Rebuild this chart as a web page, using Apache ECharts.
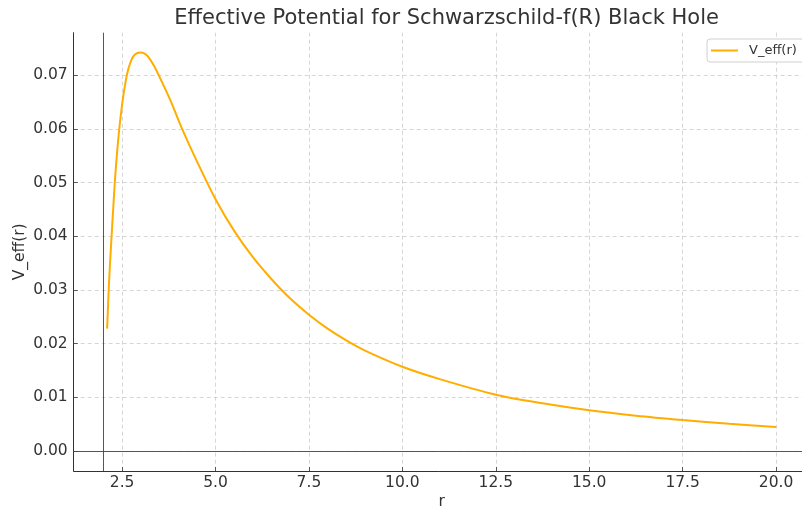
<!DOCTYPE html>
<html>
<head>
<meta charset="utf-8">
<script src="https://cdn.jsdelivr.net/npm/echarts@6/dist/echarts.min.js"></script>
<style>html,body{margin:0;padding:0;background:#fff}#c{width:802px;height:508px}</style>
</head>
<body>
<div id="c"></div>
<script>
const rValues = [2.10, 2.15, 2.21, 2.27, 2.32, 2.41, 2.50, 2.57, 2.64, 2.72, 2.80, 2.90, 3.00, 3.10, 3.20, 3.35, 3.50, 3.65, 3.80, 4.10, 4.50, 5.00, 5.50, 6.00, 6.50, 7.00, 7.50, 8.00, 8.50, 9.00, 10.00, 11.00, 12.50, 13.75, 15.00, 16.25, 17.50, 18.75, 20.00];
const vEff = [0.0228, 0.0313, 0.0390, 0.0460, 0.0515, 0.0590, 0.0645, 0.0678, 0.0704, 0.0723, 0.0735, 0.0741, 0.0742, 0.0740, 0.0734, 0.0718, 0.0697, 0.0675, 0.0652, 0.0601, 0.0540, 0.0469, 0.0410, 0.0361, 0.0320, 0.0284, 0.0254, 0.0228, 0.0206, 0.0187, 0.0157, 0.0134, 0.0105, 0.0089, 0.0076, 0.0066, 0.0058, 0.0051, 0.0045];
const xTicks = [2.5, 5.0, 7.5, 10.0, 12.5, 15.0, 17.5, 20.0];
const yTicks = [0.00, 0.01, 0.02, 0.03, 0.04, 0.05, 0.06, 0.07];
const titleText = 'Effective Potential for Schwarzschild-f(R) Black Hole';
const seriesName = 'V_eff(r)';

const font = 'DejaVu Sans';
const chart = echarts.init(document.getElementById('c'));
chart.setOption({
  animation: false,
  backgroundColor: '#fff',
  textStyle: { fontFamily: font },
  title: {
    text: titleText, left: 441.6, textAlign: 'center', top: 3,
    textStyle: { fontFamily: font, fontSize: 21, fontWeight: 'normal', color: '#333' }
  },
  legend: {
    left: 707, top: 39, padding: [5, 10, 5, 4], itemWidth: 27, itemHeight: 2, icon: 'rect',
    borderColor: '#d0d0d0', borderWidth: 1, borderRadius: 3, backgroundColor: '#fff',
    textStyle: { fontFamily: font, fontSize: 13, color: '#333', padding: [0, 0, 0, 6] },
    data: [seriesName]
  },
  grid: { left: 73.7, top: 32.7, width: 735.8, height: 438.3, containLabel: false, outerBoundsMode: 'none' },
  xAxis: {
    type: 'value', min: 1.205, max: 20.895,
    name: 'r', nameLocation: 'middle', nameGap: 23, nameMoveOverlap: false,
    nameTextStyle: { fontFamily: font, fontSize: 15.5, color: '#333' },
    axisLine: { show: true, onZero: false, lineStyle: { color: '#333', width: 1 } },
    axisTick: { show: true, inside: true, length: 4, customValues: xTicks, lineStyle: { color: '#555' } },
    axisLabel: { customValues: xTicks, margin: 4, fontSize: 15.5, color: '#333', fontFamily: font,
      formatter: v => v.toFixed(1) },
    splitLine: { show: true, lineStyle: { color: '#cccccc', type: [4, 3], width: 0.8 } }
  },
  yAxis: {
    type: 'value', min: -0.0037, max: 0.0779,
    name: 'V_eff(r)', nameLocation: 'middle', nameRotate: 90, nameGap: 46, nameMoveOverlap: false,
    nameTextStyle: { fontFamily: font, fontSize: 15.5, color: '#333' },
    axisLine: { show: true, onZero: false, lineStyle: { color: '#333', width: 1 } },
    axisTick: { show: true, inside: true, length: 4, customValues: yTicks, lineStyle: { color: '#555' } },
    axisLabel: { customValues: yTicks, margin: 6, fontSize: 15.5, color: '#333', fontFamily: font,
      formatter: v => v.toFixed(2) },
    splitLine: { show: true, lineStyle: { color: '#cccccc', type: [4, 3], width: 0.8 } }
  },
  series: [{
    name: seriesName, type: 'line', symbol: 'none', smooth: 0.3,
    data: rValues.map((r, i) => [r, vEff[i]]),
    lineStyle: { color: '#FFAE00', width: 2 },
    itemStyle: { color: '#FFAE00' },
    z: 3,
    markLine: {
      silent: true, symbol: 'none', label: { show: false },
      lineStyle: { color: '#444', type: 'solid', width: 0.9 },
      data: [{ xAxis: 2 }, { yAxis: 0 }]
    }
  }]
});
</script>
</body>
</html>
